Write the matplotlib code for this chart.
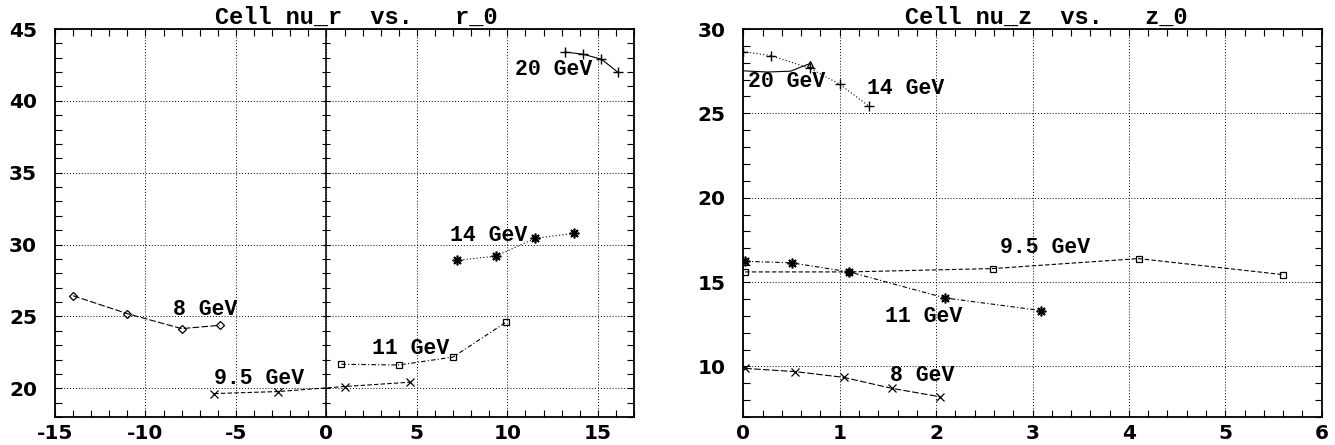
import numpy as np
import matplotlib
matplotlib.use("Agg")
import matplotlib.pyplot as plt

# ---------------- data: left panel (nu_r vs r_0) ----------------
r_20 = [13.2, 14.2, 15.2, 16.1]
nur_20 = [43.4, 43.24, 42.9, 42.0]
r_14 = [7.2, 9.35, 11.55, 13.7]
nur_14 = [28.9, 29.19, 30.44, 30.78]
r_11 = [0.83, 4.0, 7.0, 9.93]
nur_11 = [21.67, 21.62, 22.17, 24.6]
r_95 = [-6.2, -2.7, 1.0, 4.6]
nur_95 = [19.63, 19.77, 20.12, 20.42]
r_8 = [-14.0, -11.0, -8.0, -5.9]
nur_8 = [26.44, 25.19, 24.15, 24.38]

# ---------------- data: right panel (nu_z vs z_0) ----------------
z_20 = [0.0, 0.25, 0.49, 0.69]
nuz_20 = [27.52, 27.45, 27.5, 27.95]
z_14 = [0.0, 0.29, 0.69, 1.0, 1.3]
nuz_14 = [28.66, 28.42, 27.67, 26.73, 25.44]
z_95 = [0.02, 1.1, 2.59, 4.1, 5.6]
nuz_95 = [15.6, 15.6, 15.8, 16.39, 15.44]
z_11 = [0.02, 0.5, 1.1, 2.09, 3.09]
nuz_11 = [16.23, 16.14, 15.6, 14.06, 13.31]
z_8 = [0.02, 0.54, 1.04, 1.54, 2.04]
nuz_8 = [9.88, 9.69, 9.35, 8.7, 8.2]

labels = ["20 GeV", "14 GeV", "11 GeV", "9.5 GeV", "8 GeV"]
left_label_pos = [(10.4, 42.15), (6.85, 30.65), (2.5, 22.8), (-6.2, 20.7), (-8.5, 25.5)]
right_label_pos = [(0.05, 26.86), (1.28, 26.45), (1.47, 12.98), (2.66, 17.04), (1.52, 9.47)]

left_xticks = [-15, -10, -5, 0, 5, 10, 15]
left_yticks = [20, 25, 30, 35, 40, 45]
right_xticks = [0, 1, 2, 3, 4, 5, 6]
right_yticks = [10, 15, 20, 25, 30]

left_title = "Cell nu_r  vs.   r_0"
right_title = "Cell nu_z  vs.   z_0"

plt.rcParams["font.family"] = ["DejaVu Sans"]
plt.rcParams["font.weight"] = "bold"

# ---------------- figure ----------------
fig = plt.figure(figsize=(13.35, 4.45), dpi=100)
W, H = 1335, 445
axL = fig.add_axes([55 / W, 1 - 417 / H, (634 - 55) / W, (417 - 29) / H])
axR = fig.add_axes([743.3 / W, 1 - 417 / H, (1321.7 - 743.3) / W, (417 - 29) / H])

mono = {"family": "Liberation Mono", "weight": "bold"}
tickfont = {"family": "DejaVu Sans", "weight": "bold", "size": 14.5}

asterisk = (8, 2, 0)
lw = 0.8


def style(ax, xlim, ylim, xmaj, ymaj, xmin, ymin):
    ax.set_xlim(*xlim)
    ax.set_ylim(*ylim)
    ax.set_xticks(xmaj, labels=[str(v) for v in xmaj], fontdict=tickfont)
    ax.set_yticks(ymaj, labels=[str(v) for v in ymaj], fontdict=tickfont)
    ax.set_xticks(xmin, minor=True)
    ax.set_yticks(ymin, minor=True)
    ax.grid(True, which="major", color="black", linestyle=(0, (1, 2)), linewidth=0.7)
    ax.tick_params(which="both", direction="in", top=True, right=True,
                   length=5, width=0.8, color="black")
    ax.tick_params(axis="y", which="major", pad=13)
    ax.tick_params(axis="x", which="major", pad=5)
    for sp in ax.spines.values():
        sp.set_linewidth(1.3)
        sp.set_color("black")


# ---- left panel ----
style(axL, (-15, 17), (18, 45), left_xticks, left_yticks,
      np.arange(-15, 18, 1), np.arange(18, 46, 1))
# zero axis with ticks
axL.axvline(0, color="black", linewidth=1.1, zorder=1)
yz = np.arange(19, 45, 1)
axL.plot(np.zeros_like(yz), yz, ls="none", marker="_", markersize=6, mew=0.8, color="black", zorder=1)

axL.plot(r_20, nur_20, color="black", lw=lw, ls="-", marker="+", ms=7, mew=1.0)
axL.plot(r_14, nur_14, color="black", lw=lw, ls=(0, (1, 2)), marker=asterisk, ms=7, mew=1.2)
axL.plot(r_11, nur_11, color="black", lw=lw, ls=(0, (4, 2, 1, 2)), marker="s", ms=5, mew=0.9, mfc="none")
axL.plot(r_95, nur_95, color="black", lw=lw, ls=(0, (4, 2)), marker="x", ms=5.5, mew=0.9)
axL.plot(r_8, nur_8, color="black", lw=lw, ls=(0, (6, 2)), marker="D", ms=4.2, mew=0.9, mfc="none")
for lab, (x, y) in zip(labels, left_label_pos):
    axL.text(x, y, lab, fontdict=mono, fontsize=15.5, ha="left", va="center")
axL.text(0.52, 1.013, left_title, transform=axL.transAxes, fontdict=mono, fontsize=17,
         ha="center", va="baseline")

# ---- right panel ----
style(axR, (0, 6), (7, 30), right_xticks, right_yticks,
      np.arange(0, 6.01, 0.2), np.arange(7, 31, 1))
axR.plot(z_20, nuz_20, color="black", lw=lw, ls="-", marker="^", ms=5, mew=0.9, mfc="none",
         markevery=[len(z_20) - 1])
axR.plot(z_14, nuz_14, color="black", lw=lw, ls=(0, (1, 2)), marker="+", ms=7, mew=1.0)
axR.plot(z_95, nuz_95, color="black", lw=lw, ls=(0, (4, 2)), marker="s", ms=5, mew=0.9, mfc="none")
axR.plot(z_11, nuz_11, color="black", lw=lw, ls=(0, (4, 2, 1, 2)), marker=asterisk, ms=7, mew=1.2)
axR.plot(z_8, nuz_8, color="black", lw=lw, ls=(0, (6, 2)), marker="x", ms=5.5, mew=0.9)
for lab, (x, y) in zip(labels, right_label_pos):
    axR.text(x, y, lab, fontdict=mono, fontsize=15.5, ha="left", va="center")
axR.text(0.523, 1.013, right_title, transform=axR.transAxes, fontdict=mono, fontsize=17,
         ha="center", va="baseline")

fig.savefig("out.png", dpi=100)
